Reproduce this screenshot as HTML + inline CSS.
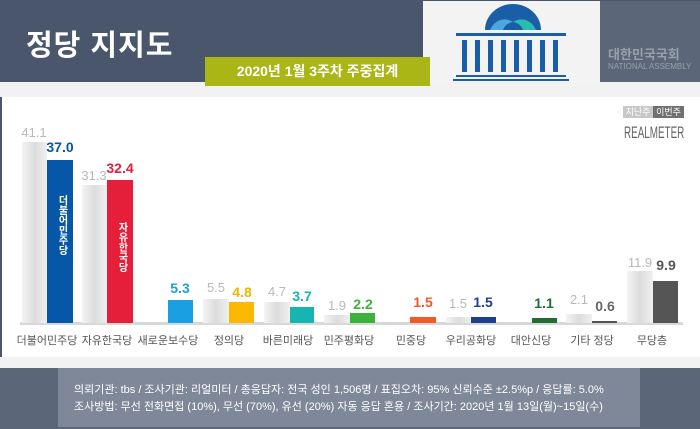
<!DOCTYPE html>
<html><head><meta charset="utf-8"><style>
*{margin:0;padding:0;box-sizing:border-box}
body{width:700px;height:429px;overflow:hidden;background:#fff;font-family:"Liberation Sans","Noto Sans CJK KR",sans-serif;position:relative}
.a{position:absolute}
.g{background:linear-gradient(90deg,#f4f4f4,#dcdcdc 50%,#f0f0f0)}
.v{position:absolute;font-size:14px;text-align:center;width:34px;font-weight:bold}
.o{color:#b8b8b8;font-weight:normal;font-size:13px}
.c{position:absolute;top:332px;font-size:11px;color:#555;width:80px;text-align:center}
</style></head><body>
<div class="a" style="left:0;top:0;width:700px;height:82px;background:#4a566b"></div>
<div class="a" style="left:26px;top:22px;color:#fff;font-size:29px;font-weight:bold;letter-spacing:1px">정당 지지도</div>
<div class="a" style="left:423px;top:1px;width:177px;height:81px;background:#f3f3f3"></div>
<svg class="a" style="left:423px;top:0" width="177" height="82">
<path d="M62 30 A28 26 0 0 1 118 30 Z" fill="#1a5ea8"/>
<path d="M67 30 A16 18 0 0 1 90 22 A12 12 0 0 0 80 30Z" fill="#4aa8e0"/>
<path d="M90 22 A16 18 0 0 1 113 30 L100 30 A12 12 0 0 0 90 22Z" fill="#2bbcb0"/>
<rect x="33" y="33" width="110" height="3" fill="#1a5ea8"/>
<g fill="#1a5ea8"><rect x="39" y="40" width="5" height="32"/><rect x="52" y="40" width="5" height="32"/><rect x="65" y="40" width="5" height="32"/><rect x="78" y="40" width="5" height="32"/><rect x="91" y="40" width="5" height="32"/><rect x="104" y="40" width="5" height="32"/><rect x="117" y="40" width="5" height="32"/><rect x="130" y="40" width="5" height="32"/></g>
<rect x="33" y="75" width="110" height="2" fill="#1a5ea8"/><rect x="30" y="79" width="116" height="2" fill="#1a5ea8"/>
</svg>
<div class="a" style="left:600px;top:1px;width:100px;height:81px;background:#5b6678"></div>
<div class="a" style="left:608px;top:44px;color:#98a0ab;font-size:13px;font-weight:bold">대한민국국회</div>
<div class="a" style="left:608px;top:62px;color:#98a0ab;font-size:8px">NATIONAL ASSEMBLY</div>
<div class="a" style="left:0;top:82px;width:700px;height:15px;background:#f2f2f2"></div>
<div class="a" style="left:205px;top:57px;width:225px;height:29px;background:#a9b615;color:#fff;font-size:14px;font-weight:bold;text-align:center;line-height:29px">2020년 1월 3주차 주중집계</div>
<div class="a" style="left:0;top:97px;width:2px;height:260px;background:#4a566b"></div>
<div class="a" style="left:623px;top:106px;width:30px;height:12px;background:#c8c8c8;color:#fff;font-size:9px;text-align:center;line-height:12px">지난주</div>
<div class="a" style="left:653px;top:106px;width:31px;height:12px;background:#707070;color:#fff;font-size:9px;text-align:center;line-height:12px">이번주</div>
<div class="a" style="left:624px;top:123px;color:#666;font-size:17px;transform:scaleX(.58);transform-origin:left;width:120px;white-space:nowrap">REALMETER</div>
<div class="a" style="left:20px;top:322px;width:663px;height:3px;background:#d8d8d8"></div>
<div class="a g" style="left:22px;top:142px;width:25px;height:181px"></div>
<div class="a" style="left:47px;top:160px;width:26px;height:163px;background:#0757a8"></div>
<div class="a" style="left:54px;top:195px;color:#fff;font-size:10px;font-weight:bold;writing-mode:vertical-rl">더불어민주당</div>
<div class="a g" style="left:82px;top:185px;width:25px;height:138px"></div>
<div class="a" style="left:107px;top:180px;width:26px;height:143px;background:#e51e39"></div>
<div class="a" style="left:114px;top:222px;color:#fff;font-size:10px;font-weight:bold;writing-mode:vertical-rl">자유한국당</div>
<div class="a" style="left:168px;top:300px;width:25px;height:23px;background:#1aa0e2"></div>
<div class="a g" style="left:203px;top:299px;width:26px;height:24px"></div>
<div class="a" style="left:229px;top:302px;width:25px;height:21px;background:#fbb800"></div>
<div class="a g" style="left:264px;top:302px;width:26px;height:21px"></div>
<div class="a" style="left:290px;top:307px;width:24px;height:16px;background:#16b5b2"></div>
<div class="a g" style="left:324px;top:315px;width:26px;height:8px"></div>
<div class="a" style="left:350px;top:313px;width:25px;height:10px;background:#3cb23c"></div>
<div class="a" style="left:410px;top:317px;width:26px;height:6px;background:#f05a28"></div>
<div class="a g" style="left:446px;top:317px;width:25px;height:6px"></div>
<div class="a" style="left:471px;top:317px;width:25px;height:6px;background:#1e3e8e"></div>
<div class="a" style="left:532px;top:318px;width:25px;height:5px;background:#1e6e34"></div>
<div class="a g" style="left:566px;top:314px;width:26px;height:9px"></div>
<div class="a" style="left:592px;top:321px;width:25px;height:2px;background:#555"></div>
<div class="a g" style="left:627px;top:271px;width:26px;height:52px"></div>
<div class="a" style="left:653px;top:281px;width:25px;height:42px;background:#555"></div>
<div class="v o" style="left:17px;top:125px">41.1</div>
<div class="v" style="left:43px;top:139px;color:#0757a8">37.0</div>
<div class="v o" style="left:77px;top:168px">31.3</div>
<div class="v" style="left:103px;top:160px;color:#e51e39">32.4</div>
<div class="v" style="left:163px;top:280px;color:#1aa0e2">5.3</div>
<div class="v o" style="left:199px;top:280px">5.5</div>
<div class="v" style="left:225px;top:284px;color:#f0b400">4.8</div>
<div class="v o" style="left:260px;top:284px">4.7</div>
<div class="v" style="left:285px;top:288px;color:#16b5b2">3.7</div>
<div class="v o" style="left:320px;top:298px">1.9</div>
<div class="v" style="left:346px;top:296px;color:#3cb23c">2.2</div>
<div class="v" style="left:406px;top:294px;color:#f05a28">1.5</div>
<div class="v o" style="left:441px;top:296px">1.5</div>
<div class="v" style="left:466px;top:294px;color:#1e3e8e">1.5</div>
<div class="v" style="left:527px;top:295px;color:#1e6e34">1.1</div>
<div class="v o" style="left:562px;top:292px">2.1</div>
<div class="v" style="left:588px;top:298px;color:#666">0.6</div>
<div class="v o" style="left:623px;top:255px">11.9</div>
<div class="v" style="left:649px;top:257px;color:#555">9.9</div>
<div class="c" style="left:7px">더불어민주당</div>
<div class="c" style="left:67px">자유한국당</div>
<div class="c" style="left:128px">새로운보수당</div>
<div class="c" style="left:189px">정의당</div>
<div class="c" style="left:248px">바른미래당</div>
<div class="c" style="left:309px">민주평화당</div>
<div class="c" style="left:371px">민중당</div>
<div class="c" style="left:431px">우리공화당</div>
<div class="c" style="left:491px">대안신당</div>
<div class="c" style="left:552px">기타 정당</div>
<div class="c" style="left:612px">무당층</div>
<div class="a" style="left:0;top:357px;width:700px;height:11px;background:#f2f2f2"></div>
<div class="a" style="left:0;top:368px;width:700px;height:61px;background:#5b6678"></div>
<div class="a" style="left:58px;top:368px;width:582px;height:59px;background:#7f8898"></div>
<div class="a" style="left:74px;top:382px;color:#fff;font-size:11px;line-height:17px;white-space:nowrap">의뢰기관: tbs / 조사기관: 리얼미터 / 총응답자: 전국 성인 1,506명 / 표집오차: 95% 신뢰수준 ±2.5%p / 응답률: 5.0%<br>조사방법: 무선 전화면접 (10%), 무선 (70%), 유선 (20%) 자동 응답 혼용 / 조사기간: 2020년 1월 13일(월)~15일(수)</div>
</body></html>
